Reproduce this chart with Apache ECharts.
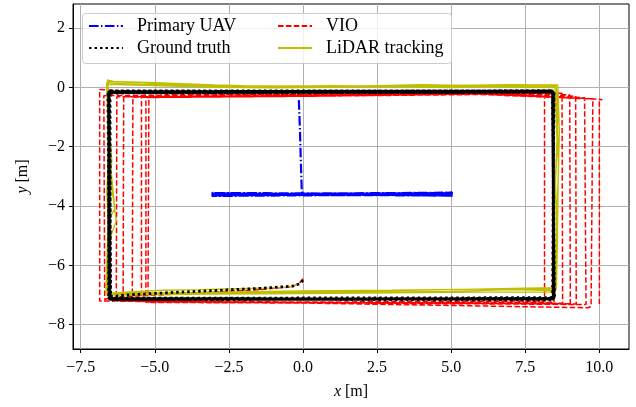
<!DOCTYPE html>
<html>
<head>
<meta charset="utf-8">
<script src="https://cdn.jsdelivr.net/npm/echarts@6/dist/echarts.min.js"></script>
<style>html,body{margin:0;padding:0;background:#fff}#c{width:636px;height:407px}</style>
</head>
<body>
<div id="c"></div>
<script>
// ---- data ----
const seriesNames = ['Primary UAV', 'Ground truth', 'VIO', 'LiDAR tracking'];
const xTicks = [-7.5, -5.0, -2.5, 0.0, 2.5, 5.0, 7.5, 10.0];
const yTicks = [-8, -6, -4, -2, 0, 2];

const primaryUav = [
  [-0.14,-0.43],[-0.10,-1.50],[-0.07,-2.60],[-0.04,-3.50],[0.00,-3.60],
  [5.06,-3.57],[-3.09,-3.63],[5.04,-3.60],[-3.07,-3.56],[5.06,-3.65],
  [-3.05,-3.60],[5.03,-3.55],[-3.08,-3.66],[5.05,-3.61],[-3.06,-3.58],
  [5.04,-3.63],[-3.09,-3.57],[5.06,-3.60],[-3.04,-3.64],[5.02,-3.59],
  [-3.08,-3.61],[5.05,-3.56],[-3.06,-3.62],[5.03,-3.64]
];

const groundTruth = [
  [0.00,-6.50],[-0.10,-6.62],[-0.35,-6.70],[-1.50,-6.78],[-3.00,-6.85],[-4.50,-6.92],[-6.00,-7.00],[-6.45,-7.05],
  [-6.52,-7.10],[-6.56,-0.15],[8.43,-0.11],[8.48,-7.12],[-6.52,-7.15],
  [-6.55,-0.18],[8.45,-0.16],[8.43,-7.16],[-6.49,-7.10],
  [-6.53,-0.13],[8.41,-0.14],[8.49,-7.13],[-6.54,-7.16],
  [-6.58,-0.19],[8.44,-0.17],[8.45,-7.09],[-6.50,-7.11],
  [-6.51,-0.12],[8.47,-0.12],[8.42,-7.17],[-6.56,-7.13],
  [-6.55,-0.16],[8.42,-0.15],[8.47,-7.11],[-6.52,-7.15],
  [-6.53,-0.17],[8.46,-0.13],[8.44,-7.14],[-6.50,-7.12]
];

const vio = [
  [0.00,-6.45],[-0.12,-6.60],[-0.35,-6.72],[-1.50,-6.82],[-3.00,-6.90],[-4.50,-6.98],[-6.00,-7.05],[-6.60,-7.12],
  [-6.69,-7.15],[-6.72,-0.28],[0.00,-0.22],[6.00,-0.15],[8.45,-0.20],[8.47,-7.25],[0.00,-7.27],[-6.86,-7.20],
  [-6.86,-0.07],[-5.00,-0.20],[0.00,-0.25],[6.00,-0.15],[8.15,-0.30],[8.15,-7.20],[0.00,-7.24],[-6.30,-7.18],
  [-6.28,-0.32],[0.00,-0.28],[6.00,-0.17],[8.74,-0.20],[8.76,-7.28],[0.00,-7.26],[-6.07,-7.20],
  [-6.05,-0.32],[0.00,-0.27],[6.00,-0.18],[9.00,-0.25],[9.02,-7.30],[0.00,-7.25],[-5.76,-7.22],
  [-5.74,-0.33],[0.00,-0.28],[6.00,-0.20],[9.20,-0.30],[9.22,-7.30],[0.00,-7.24],[-5.45,-7.22],
  [-5.45,-0.33],[0.00,-0.29],[6.00,-0.22],[9.50,-0.35],[9.55,-7.32],[0.00,-7.26],[-5.30,-7.24],
  [-5.30,-0.34],[0.00,-0.30],[6.00,-0.22],[9.78,-0.38],[9.72,-7.38],[9.62,-7.43],[0.00,-7.27],[-5.23,-7.25],
  [-5.20,-0.34],[0.00,-0.30],[6.00,-0.24],[10.00,-0.40],[10.10,-0.42],[10.00,-0.42],[10.00,-7.30]
];

const lidar = [
  [-0.15,-6.62],[-0.35,-6.72],[-1.00,-6.76],[-1.90,-6.78],[-3.50,-6.82],[-4.70,-6.84],[-6.00,-6.90],[-6.63,-6.95],
  [-6.55,-5.50],[-6.60,-4.00],[-6.45,-2.50],[-6.55,-1.00],[-6.62,0.10],[-5.00,0.06],[-3.00,0.00],[-1.00,-0.02],[1.00,0.00],[3.00,0.02],[5.00,-0.01],[7.00,0.04],[8.55,0.03],
  [8.60,-1.00],[8.52,-3.00],[8.55,-5.00],[8.50,-6.85],[7.00,-6.82],[5.00,-6.88],[2.50,-6.90],[0.00,-6.92],[-2.50,-6.95],[-5.00,-6.97],[-6.60,-6.98],
  [-6.48,-5.00],[-6.30,-4.50],[-6.50,-3.00],[-6.58,-1.50],[-6.60,0.25],[-6.40,0.20],[-5.00,0.16],[-3.00,0.08],[-1.00,0.03],[1.00,0.06],[3.00,0.03],[5.00,0.07],[7.00,0.09],[8.60,0.08],
  [8.65,-1.50],[8.62,-2.80],[8.55,-4.50],[8.52,-6.75],[7.50,-6.77],[5.00,-6.82],[2.50,-6.86],[0.00,-6.88],[-2.50,-6.92],[-5.00,-6.93],[-6.65,-6.92],
  [-6.58,-4.50],[-6.35,-4.10],[-6.55,-2.00],[-6.63,0.15],[-5.50,0.10],[-3.00,0.04],[0.00,0.00],[2.00,0.03],[4.00,0.05],[6.00,0.02],[8.50,-0.01],
  [8.58,-2.00],[8.48,-4.00],[8.50,-6.90],[6.00,-6.90],[3.00,-6.93],[0.00,-6.95],[-3.00,-6.97],[-6.62,-7.00],
  [-6.50,-6.00],[-6.62,-3.50],[-6.52,-1.50],[-6.58,0.20],[-5.00,0.13],[-2.00,0.06],[1.00,0.02],[4.00,0.09],[6.50,0.05],[8.55,0.01],
  [8.62,-2.50],[8.58,-5.50],[8.55,-6.80],[6.00,-6.80],[3.00,-6.84],[0.00,-6.86],[-3.00,-6.90],[-6.60,-6.95]
];

// ---- chart ----
const FONT = '"Liberation Serif", "DejaVu Serif", serif';
const minus = s => String(s).replace('-', '\u2212');
const chart = echarts.init(document.getElementById('c'), null, {renderer: 'canvas'});

const legendCommon = {
  orient: 'vertical', top: 12, itemWidth: 34, itemHeight: 14, itemGap: 4,
  selectedMode: false, z: 5, itemStyle: {opacity: 0},
  textStyle: {fontFamily: FONT, fontSize: 18, color: '#000', padding: [0, 0, 0, 9]}
};

const option = {
  animation: false,
  backgroundColor: '#fff',
  grid: {left: 73, right: 7, top: 4, bottom: 58, show: true, borderColor: '#000', borderWidth: 1, backgroundColor: 'transparent'},
  xAxis: {
    type: 'value', min: -7.76, max: 11.0, interval: 2.5,
    axisLine: {show: true, onZero: false, lineStyle: {color: '#000', width: 1}},
    axisTick: {show: true, length: 4, lineStyle: {color: '#000'}, customValues: xTicks},
    axisLabel: {customValues: xTicks, margin: 11, fontFamily: FONT, fontSize: 16, color: '#000',
      formatter: v => minus(v.toFixed(1))},
    splitLine: {show: true, lineStyle: {color: '#b0b0b0', width: 1}},
    name: '{i|x} [m]', nameLocation: 'middle', nameGap: 35,
    nameTextStyle: {fontFamily: FONT, fontSize: 16, color: '#000', rich: {i: {fontFamily: FONT, fontStyle: 'italic', fontSize: 16}}}
  },
  yAxis: {
    type: 'value', min: -8.82, max: 2.81, interval: 2,
    axisLine: {show: true, onZero: false, lineStyle: {color: '#000', width: 1}},
    axisTick: {show: true, length: 4, lineStyle: {color: '#000'}, customValues: yTicks},
    axisLabel: {customValues: yTicks, margin: 8, fontFamily: FONT, fontSize: 16, color: '#000',
      formatter: v => minus(String(Math.round(v)))},
    splitLine: {show: true, lineStyle: {color: '#b0b0b0', width: 1}},
    name: '{i|y} [m]', nameLocation: 'middle', nameGap: 42, nameRotate: 90,
    nameTextStyle: {fontFamily: FONT, fontSize: 16, color: '#000', rich: {i: {fontFamily: FONT, fontStyle: 'italic', fontSize: 16}}}
  },
  graphic: [{
    type: 'rect', z: 3, shape: {x: 82.5, y: 13.5, width: 369, height: 50, r: 3},
    style: {fill: 'rgba(255,255,255,0.8)', stroke: '#cccccc', lineWidth: 1}
  }],
  legend: [
    Object.assign({data: [seriesNames[0], seriesNames[1]], left: 83}, legendCommon),
    Object.assign({data: [seriesNames[2], seriesNames[3]], left: 272}, legendCommon)
  ],
  series: [
    {name: seriesNames[0], type: 'line', data: primaryUav, symbol: 'none', z: 2, itemStyle: {color: '#0000ff'},
     lineStyle: {color: '#0000ff', width: 2.2, type: [9.6, 2.4, 1.5, 2.4]}},
    {name: seriesNames[1], type: 'line', data: groundTruth, symbol: 'none', z: 6, itemStyle: {color: '#000000'},
     lineStyle: {color: '#000000', width: 2.8, type: [2.5, 3]}},
    {name: seriesNames[2], type: 'line', data: vio, symbol: 'none', z: 3, itemStyle: {color: '#ff0000'},
     lineStyle: {color: '#ff0000', width: 1.5, type: [5.5, 2.4]}},
    {name: seriesNames[3], type: 'line', data: lidar, symbol: 'none', z: 4, itemStyle: {color: '#bfbf00'},
     lineStyle: {color: '#bfbf00', width: 1.3, type: 'solid'}}
  ]
};
chart.setOption(option);
</script>
</body>
</html>
